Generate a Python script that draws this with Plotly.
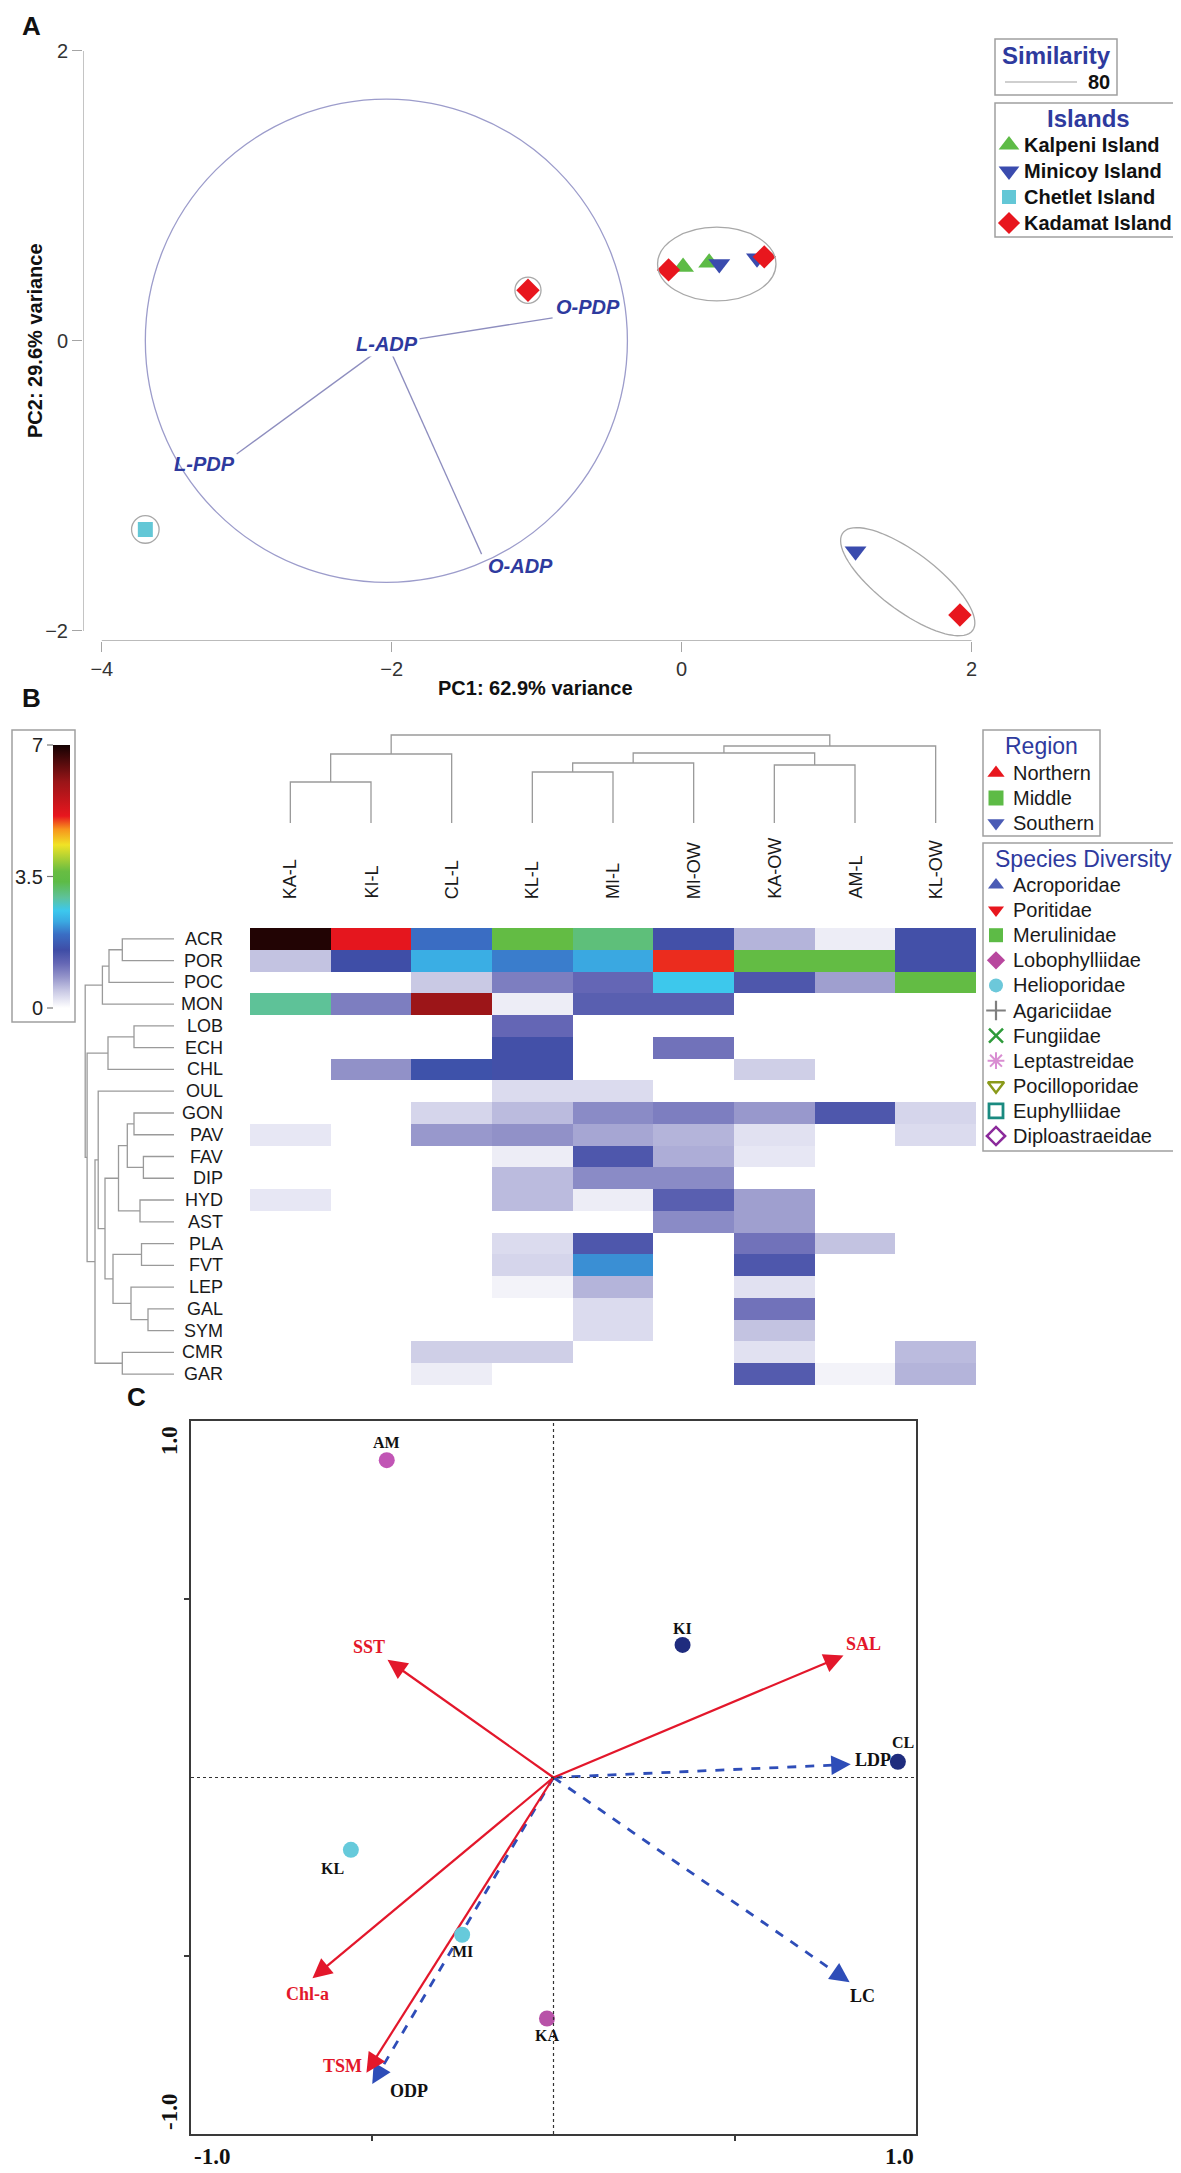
import numpy as np
import plotly.graph_objects as go

W, H = 1181, 2173
def px(x): return x / W
def py(y): return 1 - y / H

SANS = "Liberation Sans, Arial, sans-serif"
SERIF = "Liberation Serif, Times New Roman, serif"
BLUE_T = "#2E3A9E"

# ---------------- Panel A data (PCA) ----------------
island_names = ["Kalpeni Island", "Minicoy Island", "Chetlet Island", "Kadamat Island"]
kalpeni_pc1 = [0.01, 0.19]
kalpeni_pc2 = [0.51, 0.54]
minicoy_pc1 = [0.26, 0.52, 1.20]
minicoy_pc2 = [0.53, 0.57, -1.45]
chetlet_pc1 = [-3.70]
chetlet_pc2 = [-1.30]
kadamat_pc1 = [-1.06, -0.09, 0.57, 1.92]
kadamat_pc2 = [0.35, 0.49, 0.58, -1.89]
vector_names = ["L-ADP", "O-PDP", "L-PDP", "O-ADP"]
vector_pc1 = [-2.03, -0.89, -3.07, -1.38]
vector_pc2 = [-0.02, 0.16, -0.78, -1.47]
vector_origin = [-2.03, -0.02]
pc1_ticks = [-4, -2, 0, 2]
pc2_ticks = [-2, 0, 2]
similarity_level = "80"

# ---------------- Panel B data (heatmap) ----------------
sites = ["KA-L", "KI-L", "CL-L", "KL-L", "MI-L", "MI-OW", "KA-OW", "AM-L", "KL-OW"]
site_region = ["Middle", "Northern", "Northern", "Southern", "Southern", "Southern", "Middle", "Middle", "Southern"]
genera = ["ACR", "POR", "POC", "MON", "LOB", "ECH", "CHL", "OUL", "GON", "PAV", "FAV",
          "DIP", "HYD", "AST", "PLA", "FVT", "LEP", "GAL", "SYM", "CMR", "GAR"]
genus_family = ["Acroporidae", "Poritidae", "Pocilloporidae", "Acroporidae", "Lobophylliidae",
                "Merulinidae", "Helioporidae", "Merulinidae", "Merulinidae", "Agariciidae",
                "Merulinidae", "Diploastraeidae", "Merulinidae", "Acroporidae", "Merulinidae",
                "Merulinidae", "Leptastreidae", "Euphylliidae", "Lobophylliidae", "Fungiidae",
                "Agariciidae"]
abundance = [
    [6.9, 5.15, 1.95, 3.5, 3.1, 1.5, 0.6, 0.15, 1.5],
    [0.5, 1.55, 2.35, 2.05, 2.3, 5.05, 3.5, 3.5, 1.5],
    [0, 0, 0.45, 1.0, 1.2, 2.6, 1.4, 0.75, 3.5],
    [2.95, 1.0, 6.0, 0.15, 1.3, 1.3, 0, 0, 0],
    [0, 0, 0, 1.2, 0, 0, 0, 0, 0],
    [0, 0, 0, 1.5, 0, 1.1, 0, 0, 0],
    [0, 0.85, 1.6, 1.5, 0, 0, 0.4, 0, 0],
    [0, 0, 0, 0.3, 0.3, 0, 0, 0, 0],
    [0, 0, 0.35, 0.55, 0.9, 1.0, 0.8, 1.4, 0.35],
    [0.2, 0, 0.8, 0.85, 0.7, 0.6, 0.25, 0, 0.3],
    [0, 0, 0, 0.15, 1.4, 0.65, 0.2, 0, 0],
    [0, 0, 0, 0.55, 0.9, 0.9, 0, 0, 0],
    [0.2, 0, 0, 0.55, 0.15, 1.3, 0.75, 0, 0],
    [0, 0, 0, 0, 0, 0.9, 0.75, 0, 0],
    [0, 0, 0, 0.3, 1.4, 0, 1.1, 0.5, 0],
    [0, 0, 0, 0.35, 2.15, 0, 1.4, 0, 0],
    [0, 0, 0, 0.1, 0.6, 0, 0.25, 0, 0],
    [0, 0, 0, 0, 0.3, 0, 1.1, 0, 0],
    [0, 0, 0, 0, 0.3, 0, 0.5, 0, 0],
    [0, 0, 0.4, 0.4, 0, 0, 0.25, 0, 0.55],
    [0, 0, 0.15, 0, 0, 0, 1.35, 0.1, 0.6],
]
# linkage: (child a, child b, height); new clusters numbered after the leaves
site_merges = [(0, 1, 41), (9, 2, 69), (3, 4, 51), (11, 5, 60), (6, 7, 58),
               (12, 13, 70), (14, 8, 77), (10, 15, 88)]
genus_merges = [(0, 1, 51.7), (21, 2, 65), (22, 3, 71.6), (4, 5, 40), (24, 6, 66),
                (8, 9, 40), (10, 11, 30.6), (12, 13, 34), (26, 27, 46.7), (29, 28, 55.5),
                (14, 15, 32.5), (17, 18, 26), (16, 32, 43), (31, 33, 61), (30, 34, 69),
                (7, 35, 75.8), (19, 20, 51.7), (36, 37, 79), (25, 38, 86.9), (23, 39, 88.8)]
cbar_ticks = [0, 3.5, 7]
cbar_ticktext = ["0", "3.5", "7"]
regions = ["Northern", "Middle", "Southern"]
families = ["Acroporidae", "Poritidae", "Merulinidae", "Lobophylliidae", "Helioporidae",
            "Agariciidae", "Fungiidae", "Leptastreidae", "Pocilloporidae", "Euphylliidae",
            "Diploastraeidae"]

# ---------------- Panel C data (RDA biplot) ----------------
stn_names = ["AM", "KI", "CL", "KL", "MI", "KA"]
stn_ax1 = [-0.46, 0.356, 0.95, -0.559, -0.252, -0.018]
stn_ax2 = [0.89, 0.372, 0.044, -0.203, -0.441, -0.676]
env_names = ["SST", "SAL", "Chl-a", "TSM"]
env_ax1 = [-0.458, 0.80, -0.665, -0.516]
env_ax2 = [0.33, 0.342, -0.563, -0.828]
coral_names = ["LDP", "LC", "ODP"]
coral_ax1 = [0.82, 0.817, -0.50]
coral_ax2 = [0.037, -0.574, -0.86]

# ---------------- styles ----------------
island_style = {
    "Kalpeni Island": dict(symbol="triangle-up", color="#5DBB46", size=19),
    "Minicoy Island": dict(symbol="triangle-down", color="#3A4BAE", size=19),
    "Chetlet Island": dict(symbol="square", color="#63C7D6", size=15),
    "Kadamat Island": dict(symbol="diamond", color="#E8161E", size=18),
}
region_style = {
    "Northern": dict(symbol="triangle-up", color="#E8161E"),
    "Middle": dict(symbol="square", color="#5DBB46"),
    "Southern": dict(symbol="triangle-down", color="#4A5BB5"),
}
family_style = {
    "Acroporidae": dict(symbol="triangle-up", color="#4A5BB5", lw=0),
    "Poritidae": dict(symbol="triangle-down", color="#E8161E", lw=0),
    "Merulinidae": dict(symbol="square", color="#5DBB46", lw=0),
    "Lobophylliidae": dict(symbol="diamond", color="#B8479E", lw=0),
    "Helioporidae": dict(symbol="circle", color="#6CC8DA", lw=0),
    "Agariciidae": dict(symbol="cross-thin", color="#7F7F7F", lw=2.2),
    "Fungiidae": dict(symbol="x-thin", color="#2E9B3A", lw=2.5),
    "Leptastreidae": dict(symbol="asterisk", color="#D98ED2", lw=2),
    "Pocilloporidae": dict(symbol="triangle-down-open", color="#8A9A1A", lw=2.5),
    "Euphylliidae": dict(symbol="square-open", color="#1A8A80", lw=2.8),
    "Diploastraeidae": dict(symbol="diamond-open", color="#8B2A9B", lw=2.5),
}

fig = go.Figure()
shapes, annos = [], []

def ann(x, y, text, size=18, color="#222", family=SANS, xanchor="center", yanchor="middle",
        xref="paper", yref="paper", angle=0):
    annos.append(dict(x=x, y=y, text=text, xref=xref, yref=yref, showarrow=False,
                      xanchor=xanchor, yanchor=yanchor, textangle=angle,
                      font=dict(size=size, color=color, family=family)))

def rect(x0, y0, x1, y1, color="#A0A0A0", width=1.5):
    shapes.append(dict(type="rect", xref="paper", yref="paper", x0=px(x0), x1=px(x1),
                       y0=py(y1), y1=py(y0), line=dict(color=color, width=width)))

def hline(x0, x1, y, color="#666", width=1.2):
    shapes.append(dict(type="line", xref="paper", yref="paper", x0=px(x0), x1=px(x1),
                       y0=py(y), y1=py(y), line=dict(color=color, width=width)))

# ================= Panel A =================
ox, oy = vector_origin
for nm, vx, vy in zip(vector_names, vector_pc1, vector_pc2):
    if nm == "L-ADP":
        continue
    fig.add_trace(go.Scatter(x=[ox, vx], y=[oy, vy], mode="lines", xaxis="x", yaxis="y",
                             line=dict(color="#8E8EBF", width=1.3), hoverinfo="skip", showlegend=False))

shapes.append(dict(type="circle", xref="x", yref="y", x0=-3.70, x1=-0.374, y0=-1.665, y1=1.668,
                   line=dict(color="#9C9CCB", width=1.3)))
for cx, cy, r in [(-1.06, 0.35, 0.09), (-3.70, -1.30, 0.095)]:
    shapes.append(dict(type="circle", xref="x", yref="y", x0=cx - r, x1=cx + r, y0=cy - r, y1=cy + r,
                       line=dict(color="#A8A8A8", width=1.3)))
shapes.append(dict(type="circle", xref="x", yref="y", x0=-0.166, x1=0.651, y0=0.277, y1=0.785,
                   line=dict(color="#A8A8A8", width=1.3)))
t = np.linspace(0, 2 * np.pi, 80)
a_, b_, ang = 0.56, 0.20, np.deg2rad(-37)
ex = 1.56 + a_ * np.cos(t) * np.cos(ang) - b_ * np.sin(t) * np.sin(ang)
ey = -1.66 + a_ * np.cos(t) * np.sin(ang) + b_ * np.sin(t) * np.cos(ang)
path = "M" + " L".join(f"{x:.4f},{y:.4f}" for x, y in zip(ex, ey)) + " Z"
shapes.append(dict(type="path", xref="x", yref="y", path=path, line=dict(color="#A8A8A8", width=1.3)))

island_pts = {
    "Kalpeni Island": (kalpeni_pc1, kalpeni_pc2),
    "Minicoy Island": (minicoy_pc1, minicoy_pc2),
    "Chetlet Island": (chetlet_pc1, chetlet_pc2),
    "Kadamat Island": (kadamat_pc1, kadamat_pc2),
}
for nm in island_names:
    st = island_style[nm]
    xs, ys = island_pts[nm]
    fig.add_trace(go.Scatter(x=xs, y=ys, mode="markers", xaxis="x", yaxis="y", showlegend=False,
                             marker=dict(symbol=st["symbol"], color=st["color"], size=st["size"],
                                         line=dict(width=0))))

lab_style = {"L-ADP": (0.0, 0.0, "center"), "O-PDP": (0.01, 0.075, "left"),
             "L-PDP": (0.0, -0.07, "right"), "O-ADP": (0.03, -0.08, "left")}
for nm, vx, vy in zip(vector_names, vector_pc1, vector_pc2):
    dx, dy, xa = lab_style[nm]
    annos.append(dict(x=vx + dx, y=vy + dy, xref="x", yref="y", text=f"<b><i>{nm}</i></b>",
                      showarrow=False, xanchor=xa, yanchor="middle",
                      bgcolor="white" if nm == "L-ADP" else None,
                      font=dict(size=20, color=BLUE_T, family=SANS)))

shapes.append(dict(type="line", xref="x", yref="y", x0=-4, x1=2, y0=-2.069, y1=-2.069,
                   line=dict(color="#A5A5A5", width=1.3)))
shapes.append(dict(type="line", xref="x", yref="y", x0=-4.13, x1=-4.13, y0=-2, y1=2,
                   line=dict(color="#A5A5A5", width=1.3)))
ann(px(527), py(680), "<b>PC1: 62.9% variance</b>", size=20, color="#111")
ann(px(27), py(333), "<b>PC2: 29.6% variance</b>", size=20, color="#111", angle=-90)
ann(px(24), py(18), "<b>A</b>", size=26, color="#111")

rect(987, 31, 1109, 87)
ann(px(1048), py(47), "<b>Similarity</b>", size=24, color=BLUE_T)
hline(997, 1069, 74, color="#A0A0A0")
ann(px(1104), py(74), f"<b>{similarity_level}</b>", size=20, color="#111", xanchor="right")
rect(987, 95, 1176, 229)
ann(px(1080), py(111), "<b>Islands</b>", size=24, color=BLUE_T)
leg_y = [137, 163, 189, 215]
for nm, yy in zip(island_names, leg_y):
    st = island_style[nm]
    fig.add_trace(go.Scatter(x=[1001], y=[yy], mode="markers", xaxis="x6", yaxis="y6", showlegend=False,
                             hoverinfo="skip",
                             marker=dict(symbol=st["symbol"], color=st["color"], size=st["size"] - 1)))
    ann(px(1014), py(yy), f"<b>{nm}</b>", size=20, color="#111", xanchor="left")

# ================= Panel B =================
colorscale = [
    [0.00, "#FFFFFF"], [0.03, "#E6E6F3"], [0.07, "#C4C4E2"], [0.12, "#9292C9"],
    [0.17, "#6567B5"], [0.22, "#3F4DA6"], [0.28, "#3A6EC4"], [0.33, "#3AAAE2"],
    [0.37, "#3CC8EE"], [0.42, "#5EC29A"], [0.48, "#5DBB46"], [0.52, "#68BD42"],
    [0.62, "#F0E326"], [0.68, "#F7941D"], [0.73, "#E8161E"], [0.86, "#9A1518"],
    [1.00, "#140202"],
]
CB_TOP, CB_BOT = 737, 1000
fig.add_trace(go.Heatmap(
    z=abundance, x=list(range(len(sites))), y=list(range(len(genera))),
    xaxis="x2", yaxis="y2", zmin=0, zmax=7, colorscale=colorscale, hoverinfo="skip",
    colorbar=dict(x=px(45), xanchor="left", xpad=0, ypad=0, thickness=17, thicknessmode="pixels",
                  len=CB_BOT - CB_TOP, lenmode="pixels", y=py((CB_TOP + CB_BOT) / 2), yanchor="middle",
                  showticklabels=False, ticks="", outlinewidth=0)))
rect(4, 722, 67, 1014)
for v, lab in zip(cbar_ticks, cbar_ticktext):
    yy = CB_BOT - (CB_BOT - CB_TOP) * v / 7.0
    hline(39, 45, yy, color="#777", width=1.2)
    ann(px(37), py(yy), lab, size=20, color="#222", xanchor="right")


def dendro(n, merges):
    pos = {i: float(i) for i in range(n)}
    hgt = {i: 0.0 for i in range(n)}
    p, h = [], []
    for k, (a, b, hh) in enumerate(merges):
        pa, pb = pos[a], pos[b]
        p += [pa, pa, pb, pb, None]
        h += [hgt[a], hh, hh, hgt[b], None]
        pos[n + k] = (pa + pb) / 2
        hgt[n + k] = hh
    return p, h

cp, ch = dendro(len(sites), site_merges)
fig.add_trace(go.Scatter(x=cp, y=ch, mode="lines", xaxis="x3", yaxis="y3", hoverinfo="skip",
                         showlegend=False, line=dict(color="#9A9A9A", width=1.3)))
rp, rh = dendro(len(genera), genus_merges)
fig.add_trace(go.Scatter(x=rh, y=rp, mode="lines", xaxis="x4", yaxis="y4", hoverinfo="skip",
                         showlegend=False, line=dict(color="#9A9A9A", width=1.3)))

for i, s in enumerate(sites):
    annos.append(dict(x=i, y=py(893), xref="x2", yref="paper", text=s, showarrow=False,
                      textangle=-90, xanchor="center", yanchor="bottom",
                      font=dict(size=18, color="#1a1a1a", family=SANS)))
fig.add_trace(go.Scatter(
    x=list(range(len(sites))), y=[-1.05] * len(sites), mode="markers", xaxis="x2", yaxis="y2",
    cliponaxis=False, hoverinfo="skip", showlegend=False,
    marker=dict(symbol=[region_style[r]["symbol"] for r in site_region],
                color=[region_style[r]["color"] for r in site_region], size=15)))
for j, g in enumerate(genera):
    annos.append(dict(x=px(217), y=j, xref="paper", yref="y2", text=g, showarrow=False,
                      xanchor="right", yanchor="middle",
                      font=dict(size=18, color="#1a1a1a", family=SANS)))
fig.add_trace(go.Scatter(
    x=[-0.65] * len(genera), y=list(range(len(genera))), mode="markers", xaxis="x2", yaxis="y2",
    cliponaxis=False, hoverinfo="skip", showlegend=False,
    marker=dict(symbol=[family_style[f]["symbol"] for f in genus_family],
                color=[family_style[f]["color"] for f in genus_family], size=14,
                line=dict(color=[family_style[f]["color"] for f in genus_family],
                          width=[family_style[f]["lw"] for f in genus_family]))))
ann(px(24), py(690), "<b>B</b>", size=26, color="#111")

rect(975, 722, 1092, 828)
ann(px(1033), py(738), "Region", size=23, color=BLUE_T)
for r, yy in zip(regions, [765, 790, 815]):
    st = region_style[r]
    fig.add_trace(go.Scatter(x=[988], y=[yy], mode="markers", xaxis="x6", yaxis="y6", showlegend=False,
                             hoverinfo="skip", marker=dict(symbol=st["symbol"], color=st["color"], size=15)))
    ann(px(1003), py(yy), r, size=20, color="#1a1a1a", xanchor="left")
rect(975, 835, 1174, 1143)
ann(px(1075), py(851), "Species Diversity", size=23, color=BLUE_T)
for k, f in enumerate(families):
    yy = 877 + 25.1 * k
    st = family_style[f]
    fig.add_trace(go.Scatter(x=[988], y=[yy], mode="markers", xaxis="x6", yaxis="y6", showlegend=False,
                             hoverinfo="skip",
                             marker=dict(symbol=st["symbol"], color=st["color"], size=14,
                                         line=dict(color=st["color"], width=st["lw"]))))
    ann(px(1003), py(yy), f, size=20, color="#1a1a1a", xanchor="left")

# ================= Panel C =================
C_TOP, C_BOT, C_L, C_R = 1413, 2126, 183, 908
shapes.append(dict(type="line", xref="x5", yref="y5", x0=0, x1=0, y0=-1, y1=1,
                   line=dict(color="#333", width=1.2, dash="dot")))
shapes.append(dict(type="line", xref="x5", yref="y5", x0=-1, x1=1, y0=0, y1=0,
                   line=dict(color="#333", width=1.2, dash="dot")))


def biplot_arrow(vx, vy, color, width, dash):
    # shaft stops just short of the tip; a solid annotation arrowhead is drawn on the tip
    fig.add_trace(go.Scatter(x=[0, 0.95 * vx], y=[0, 0.95 * vy], mode="lines", xaxis="x5", yaxis="y5",
                             hoverinfo="skip", showlegend=False,
                             line=dict(color=color, width=width, dash=dash)))
    annos.append(dict(x=vx, y=vy, ax=0.965 * vx, ay=0.965 * vy, xref="x5", yref="y5",
                      axref="x5", ayref="y5", text="", showarrow=True, arrowhead=2,
                      arrowsize=1.5, arrowwidth=2.6, arrowcolor=color, standoff=0, startstandoff=0))


for nm, vx, vy in zip(coral_names, coral_ax1, coral_ax2):
    biplot_arrow(vx, vy, "#2E4DB8", 2.8, "dash")
for nm, vx, vy in zip(env_names, env_ax1, env_ax2):
    biplot_arrow(vx, vy, "#E3172B", 2.2, "solid")

stn_color = {"AM": "#C155B5", "KI": "#1F2C7E", "CL": "#1F2C7E", "KL": "#66CADB", "MI": "#66CADB",
             "KA": "#B852A8"}
fig.add_trace(go.Scatter(x=stn_ax1, y=stn_ax2, mode="markers", xaxis="x5", yaxis="y5",
                         hoverinfo="skip", showlegend=False,
                         marker=dict(size=16, color=[stn_color[s] for s in stn_names])))
stn_off = {"AM": (0, 0.05), "KI": (0, 0.047), "CL": (0.015, 0.054), "KL": (-0.05, -0.052),
           "MI": (0, -0.048), "KA": (0, -0.048)}
for nm, vx, vy in zip(stn_names, stn_ax1, stn_ax2):
    dx, dy = stn_off[nm]
    annos.append(dict(x=vx + dx, y=vy + dy, xref="x5", yref="y5", text=f"<b>{nm}</b>", showarrow=False,
                      font=dict(size=16, color="#111", family=SERIF)))
env_off = {"SST": (-0.05, 0.035), "SAL": (0.055, 0.032), "Chl-a": (-0.015, -0.045), "TSM": (-0.065, 0.02)}
for nm, vx, vy in zip(env_names, env_ax1, env_ax2):
    dx, dy = env_off[nm]
    annos.append(dict(x=vx + dx, y=vy + dy, xref="x5", yref="y5", text=f"<b>{nm}</b>", showarrow=False,
                      font=dict(size=18, color="#E3172B", family=SERIF)))
coral_off = {"LDP": (0.06, 0.013), "LC": (0.035, -0.04), "ODP": (0.1, -0.02)}
for nm, vx, vy in zip(coral_names, coral_ax1, coral_ax2):
    dx, dy = coral_off[nm]
    annos.append(dict(x=vx + dx, y=vy + dy, xref="x5", yref="y5", text=f"<b>{nm}</b>", showarrow=False,
                      font=dict(size=18, color="#111", family=SERIF)))
ann(px(C_L + 1), py(C_BOT + 22), "<b>-1.0</b>", size=23, color="#111", family=SERIF, xanchor="left")
ann(px(C_R), py(C_BOT + 22), "<b>1.0</b>", size=23, color="#111", family=SERIF, xanchor="right")
ann(px(161), py(C_TOP + 20), "<b>1.0</b>", size=23, color="#111", family=SERIF, angle=-90)
ann(px(161), py(C_BOT - 22), "<b>-1.0</b>", size=23, color="#111", family=SERIF, angle=-90)
ann(px(128), py(1389), "<b>C</b>", size=26, color="#111")

# ================= axes =================
hidden = dict(visible=False, showgrid=False, zeroline=False, fixedrange=True)
fig.update_layout(
    width=W, height=H, autosize=False, margin=dict(l=0, r=0, t=0, b=0),
    paper_bgcolor="white", plot_bgcolor="rgba(0,0,0,0)", showlegend=False, template="none",
    xaxis=dict(domain=[px(75), px(978)], range=[-4.13, 2.1], anchor="y", showgrid=False, zeroline=False,
               showline=False, ticks="outside", ticklen=10, tickcolor="#A5A5A5", tickvals=pc1_ticks,
               tickfont=dict(size=20, color="#333", family=SANS)),
    yaxis=dict(domain=[py(633), py(36)], range=[-2.069, 2.048], anchor="x", showgrid=False, zeroline=False,
               showline=False, ticks="outside", ticklen=10, tickcolor="#A5A5A5", tickvals=pc2_ticks,
               tickfont=dict(size=20, color="#333", family=SANS)),
    xaxis2=dict(domain=[px(242), px(968)], range=[-0.5, 8.5], anchor="y2", **hidden),
    yaxis2=dict(domain=[py(1377), py(920)], range=[20.5, -0.5], anchor="x2", **hidden),
    xaxis3=dict(domain=[px(242), px(968)], range=[-0.5, 8.5], anchor="y3", **hidden),
    yaxis3=dict(domain=[py(815), py(720)], range=[0, 95], anchor="x3", **hidden),
    xaxis4=dict(domain=[px(70), px(166)], range=[96, 0], anchor="y4", **hidden),
    yaxis4=dict(domain=[py(1377), py(920)], range=[20.5, -0.5], anchor="x4", **hidden),
    xaxis5=dict(domain=[px(C_L), px(C_R)], range=[-1, 1], anchor="y5", showgrid=False, zeroline=False,
                showline=True, mirror=True, linecolor="#3a3a3a", linewidth=2, ticks="outside",
                ticklen=5, tickwidth=2, tickcolor="#3a3a3a", tickvals=[-0.5, 0.5], showticklabels=False),
    yaxis5=dict(domain=[py(C_BOT), py(C_TOP)], range=[-1, 1], anchor="x5", showgrid=False, zeroline=False,
                showline=True, mirror=True, linecolor="#3a3a3a", linewidth=2, ticks="outside",
                ticklen=5, tickwidth=2, tickcolor="#3a3a3a", tickvals=[-0.5, 0.5], showticklabels=False),
    xaxis6=dict(domain=[0, 1], range=[0, W], anchor="y6", **hidden),
    yaxis6=dict(domain=[0, 1], range=[H, 0], anchor="x6", **hidden),
    shapes=shapes, annotations=annos,
)
fig.write_html("out.html")
